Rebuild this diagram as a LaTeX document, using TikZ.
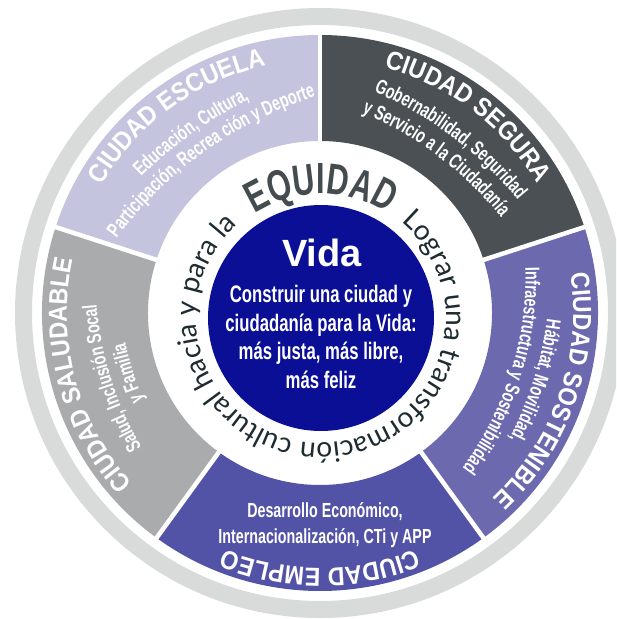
\documentclass[tikz,border=0pt]{standalone}
\usepackage{fontspec}
\setmainfont{Liberation Sans}
\newfontfamily\fuentetitulo[FakeStretch=0.9]{Liberation Sans}
\newfontfamily\fuenteestrecha[FakeStretch=0.7]{Liberation Sans}
\newfontfamily\fuenteanillo{Lato}
\usetikzlibrary{decorations.text}
\definecolor{escuela}{HTML}{C4C4DE}
\definecolor{segura}{HTML}{4A5054}
\definecolor{sostenible}{HTML}{6C69AF}
\definecolor{empleo}{HTML}{5253A6}
\definecolor{saludable}{HTML}{AAABAD}
\definecolor{grisanillo}{HTML}{D9DBDA}
\definecolor{azulvida}{HTML}{0B0F96}
\definecolor{equidad}{HTML}{454C50}
\definecolor{textoanillo}{HTML}{1E2B30}

\begin{document}
\begin{tikzpicture}[
  titulo/.style={decorate, decoration={text along path, text align=center,
      text={|\fuentetitulo\bfseries\fontsize{18.5}{21}\selectfont\color{white}|#1}}},
  lema/.style={decorate, decoration={text along path, text align=center,
      text={|\fuenteestrecha\bfseries\fontsize{14.5}{17}\selectfont\color{white}|#1}}},
  separador/.style={draw=white, line width=3.2pt}
]

% ---- marco y fondo ----------------------------------------------------
\useasboundingbox (-8,-7.65) rectangle (7.4,7.825);
\clip (-8,-7.65) rectangle (7.4,7.825);
\fill[white] (-8,-7.65) rectangle (7.4,7.825);

% ---- anillo gris exterior ---------------------------------------------
\fill[grisanillo, even odd rule] (0,0) circle (7.625) circle (7.2);

% ---- los cinco sectores -----------------------------------------------
\foreach \col/\ini/\fin in {escuela/90/162, segura/18/90, sostenible/-54/18,
                            empleo/-126/-54, saludable/162/234} {
  \fill[\col] (\ini:4.3) arc[start angle=\ini, end angle=\fin, radius=4.3]
    -- (\fin:6.95) arc[start angle=\fin, end angle=\ini, radius=6.95] -- cycle;
}
\foreach \a in {90,18,-54,-126,162}
  \draw[separador] (\a:4.2) -- (\a:7.05);

% ---- titulos de cada ciudad -------------------------------------------
\path[titulo={CIUDAD ESCUELA}] (160:6.33) arc[start angle=160, end angle=92, radius=6.33];
\path[titulo={CIUDAD SEGURA}] (87:6.33) arc[start angle=87, end angle=19, radius=6.33];
\path[titulo={CIUDAD SOSTENIBLE}] (15:6.33) arc[start angle=15, end angle=-53, radius=6.33];
\path[titulo={CIUDAD EMPLEO}] (-56:6.38) arc[start angle=-56, end angle=-124, radius=6.38];
\path[titulo={CIUDAD SALUDABLE}] (229:6.33) arc[start angle=229, end angle=161, radius=6.33];

% ---- lemas de cada ciudad (arcos mas planos) ----------------------------
\begin{scope}[shift={(125.5:-5)}]
  \path[lema={Educación, Cultura,}]
    (150.5:10.5) arc[start angle=150.5, end angle=100.5, radius=10.5];
  \path[lema={Participación, Recrea ción y Deporte}]
    (150.5:9.95) arc[start angle=150.5, end angle=100.5, radius=9.95];
\end{scope}
\begin{scope}[shift={(53:-4)}]
  \path[lema={Gobernabilidad, Seguridad}]
    (83:9.5) arc[start angle=83, end angle=23, radius=9.5];
  \path[lema={y Servicio a la Ciudadanía}]
    (83:8.9) arc[start angle=83, end angle=23, radius=8.9];
\end{scope}
\begin{scope}[shift={(-17.5:-3)}]
  \path[lema={Hábitat, Movilidad,}]
    (12.5:8.6) arc[start angle=12.5, end angle=-47.5, radius=8.6];
  \path[lema={Infraestructura y Sostenibilidad}]
    (12.5:8) arc[start angle=12.5, end angle=-47.5, radius=8];
\end{scope}
\begin{scope}[shift={(197.5:-3)}]
  \path[lema={Salud, Inclusión Socal}]
    (227.5:8.475) arc[start angle=227.5, end angle=167.5, radius=8.475];
  \path[lema={y Familia}]
    (227.5:7.9) arc[start angle=227.5, end angle=167.5, radius=7.9];
\end{scope}
\node[text=white, align=center, font=\fuenteestrecha\bfseries\fontsize{14.5}{18.5}\selectfont]
  (lemaempleo) at (0.125,-5.3) {Desarrollo Económico,\\ Internacionalización, CTi y APP};

% ---- circulo central --------------------------------------------------
\node[circle, fill=azulvida, minimum size=5.65cm, inner sep=0pt] (vida) at (0.025,-0.125) {};
\node[text=white, font=\bfseries\fontsize{27}{30}\selectfont] (titvida) at (0.05,1.5) {Vida};
\node[text=white, align=center, font=\fuenteestrecha\bfseries\fontsize{17}{20.3}\selectfont]
  (lemavida) at (0.025,-0.6)
  {Construir una ciudad y\\ ciudadanía para la Vida:\\ más justa, más libre,\\ más feliz};

% ---- texto circular: equidad ------------------------------------------
\begin{scope}[shift={(0.025,-0.125)}]
  \path[decorate, decoration={text along path, text align=center,
        text={|\fuenteestrecha\bfseries\fontsize{31}{33}\selectfont\color{equidad}|EQUIDAD}}]
    (135:3.1) arc[start angle=135, end angle=45, radius=3.1];
  \path[decorate, decoration={text along path, text align=center,
        text={|\fuenteanillo\fontsize{20}{22}\selectfont\color{textoanillo}|Lograr una transformación cultural hacia y para la}}]
    (60:3.125) arc[start angle=60, end angle=-238, radius=3.125];
\end{scope}

\end{tikzpicture}
\end{document}
